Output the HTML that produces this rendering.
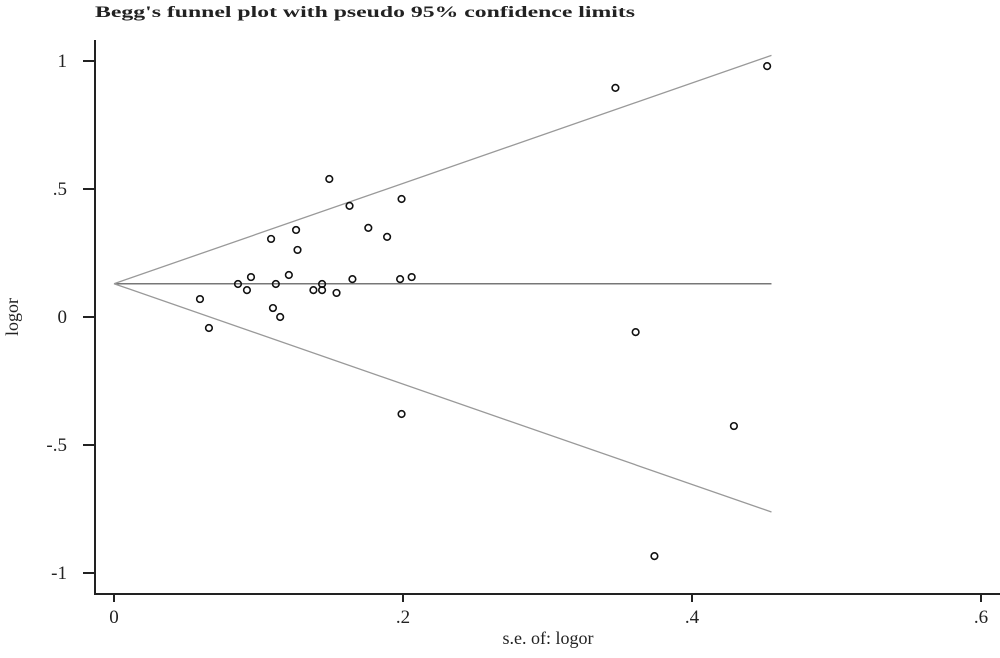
<!DOCTYPE html>
<html><head><meta charset="utf-8"><style>
body{margin:0;background:#fff}
svg text{font-family:"Liberation Serif",serif;fill:#222}
</style></head><body>
<svg width="1000" height="653" xmlns="http://www.w3.org/2000/svg">
<text x="95" y="17" font-size="16" font-weight="bold" fill="#333" textLength="540" lengthAdjust="spacingAndGlyphs">Begg's funnel plot with pseudo 95% confidence limits</text>
<g id="axes"></g>
<g id="marks"></g>
<text x="548" y="644" font-size="18" text-anchor="middle">s.e. of: logor</text>
<text transform="translate(18,317) rotate(-90)" font-size="18" text-anchor="middle">logor</text>
</svg>
<script>
const seVals=[.0595,.0657,.0858,.092,.0948,.1087,.110,.112,.115,.126,.127,.121,.138,.144,.144,.154,.149,.163,.165,.176,.189,.199,.198,.206,.199,.347,.361,.429,.452,.374];
const logorVals=[.070,-.043,.129,.105,.156,.305,.035,.129,.000,.340,.262,.164,.105,.129,.105,.094,.539,.434,.148,.348,.313,.461,.148,.156,-.379,.895,-.059,-.426,.980,-.934];
const pooled=[0.13];
const maxSe=[0.455];
const xTicks=[0,.2,.4,.6];
const xTickLabels=["0",".2",".4",".6"];
const yTicks=[1,.5,0,-.5,-1];
const yTickLabels=["1",".5","0","-.5","-1"];
const X=v=>114+v*1445, Y=v=>317-v*256;
const NS="http://www.w3.org/2000/svg";
function mk(t,a,p){const e=document.createElementNS(NS,t);for(const k in a)e.setAttribute(k,a[k]);p.appendChild(e);return e;}
const ax=document.getElementById('axes'), mk2=document.getElementById('marks');
let e=mk('line',{x1:95,y1:40,x2:95,y2:595,stroke:'#222','stroke-width':2},ax);


e=mk('line',{x1:94,y1:594,x2:1000,y2:594,stroke:'#222','stroke-width':2},ax);


xTicks.forEach((v,i)=>{
 mk('line',{x1:X(v),y1:594,x2:X(v),y2:602,stroke:'#222','stroke-width':2},ax);
 const t=mk('text',{x:X(v),y:623,'font-size':19,'text-anchor':'middle'},ax);t.textContent=xTickLabels[i];
 
 
});
yTicks.forEach((v,i)=>{
 mk('line',{x1:83,y1:Y(v),x2:95,y2:Y(v),stroke:'#222','stroke-width':2},ax);
 const t=mk('text',{x:67,y:Y(v)+6,'font-size':19,'text-anchor':'end'},ax);t.textContent=yTickLabels[i];
 
 
});
const p=pooled[0],m=maxSe[0];
e=mk('line',{x1:X(0),y1:Y(p),x2:X(m),y2:Y(p),stroke:'#777','stroke-width':1.5},mk2);


e=mk('line',{x1:X(0),y1:Y(p),x2:X(m),y2:Y(p+1.96*m),stroke:'#999','stroke-width':1.3},mk2);


e=mk('line',{x1:X(0),y1:Y(p),x2:X(m),y2:Y(p-1.96*m),stroke:'#999','stroke-width':1.3},mk2);


seVals.forEach((s,i)=>{
 const c=mk('circle',{cx:X(s),cy:Y(logorVals[i]),r:3.3,fill:'none',stroke:'#111','stroke-width':1.6},mk2);
 
 
});
</script>
</body></html>
